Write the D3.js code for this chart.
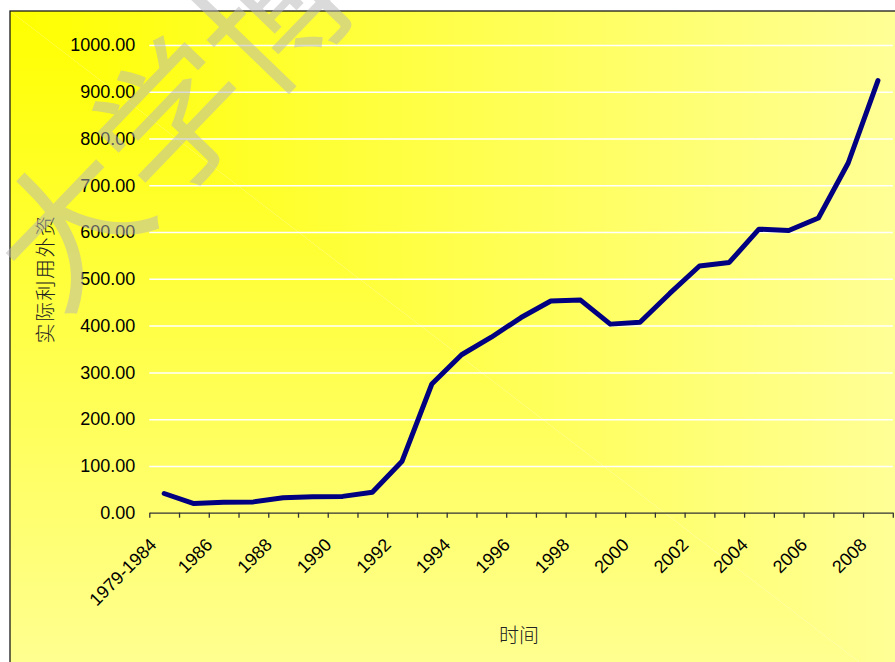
<!DOCTYPE html>
<html>
<head>
<meta charset="utf-8">
<script src="https://cdn.jsdelivr.net/npm/d3@7"></script>
<style>
  html, body { margin: 0; padding: 0; background: #ffffff; }
  svg { display: block; }
</style>
</head>
<body>
<svg id="chart" width="895" height="662"></svg>
<script>
// ---- data ----
const categories = ["1979-1984","1985","1986","1987","1988","1989","1990","1991","1992","1993",
  "1994","1995","1996","1997","1998","1999","2000","2001","2002","2003","2004","2005","2006","2007","2008"];
const values = [41.04, 19.56, 22.44, 23.14, 31.94, 33.92, 34.87, 43.66, 110.07, 275.15,
  337.67, 375.21, 417.26, 452.57, 454.63, 403.19, 407.15, 468.78, 527.43, 535.05,
  606.30, 603.25, 630.21, 747.68, 923.95];
const yTickValues = [0, 100, 200, 300, 400, 500, 600, 700, 800, 900, 1000];
const xLabelCategories = ["1979-1984","1986","1988","1990","1992","1994","1996","1998","2000","2002","2004","2006","2008"];
const yTitle = "实际利用外资";
const xTitle = "时间";
const watermarkText = "大学博";

// ---- layout ----
const svg = d3.select("#chart");
const frame = {x: 10, y: 11, w: 900, h: 690};
const plot = {left: 149.3, right: 892.8, top: 45, bottom: 512.7};

const defs = svg.append("defs");
// rectangular "from corner" gradient = horizontal ramp above the diagonal, vertical ramp below
const gh = defs.append("linearGradient").attr("id", "gh").attr("gradientUnits", "userSpaceOnUse")
  .attr("x1", frame.x).attr("y1", 0).attr("x2", frame.x + frame.w).attr("y2", 0);
const gv = defs.append("linearGradient").attr("id", "gv").attr("gradientUnits", "userSpaceOnUse")
  .attr("x1", 0).attr("y1", frame.y).attr("x2", 0).attr("y2", frame.y + frame.h);
[gh, gv].forEach(g => {
  g.append("stop").attr("offset", "0").attr("stop-color", "#FFFF00");
  g.append("stop").attr("offset", "1").attr("stop-color", "#FFFF99");
});
const fx0 = frame.x, fy0 = frame.y, fx1 = frame.x + frame.w, fy1 = frame.y + frame.h;
svg.append("polygon").attr("points", `${fx0},${fy0} ${fx1},${fy0} ${fx1},${fy1}`).attr("fill", "url(#gh)");
svg.append("polygon").attr("points", `${fx0},${fy0} ${fx0},${fy1} ${fx1},${fy1}`).attr("fill", "url(#gv)");
svg.append("rect").attr("x", frame.x).attr("y", frame.y).attr("width", frame.w).attr("height", frame.h)
  .attr("fill", "none").attr("stroke", "#1a1a1a").attr("stroke-width", 1.3);

// ---- scales ----
const x = d3.scaleBand().domain(categories).range([plot.left, plot.right]).padding(0);
const xEdge = d3.scaleLinear().domain([0, categories.length]).range([plot.left, plot.right]);
const y = d3.scaleLinear().domain([0, 1000]).range([plot.bottom, plot.top]);

const fontNum = "'Liberation Sans', Arial, sans-serif";
const fontCJK = "'Noto Sans CJK SC', sans-serif";

// gridlines
const grid = svg.append("g").attr("transform", `translate(${plot.left},0)`)
  .call(d3.axisLeft(y).tickValues(yTickValues.filter(v => v > 0)).tickSize(-(plot.right - plot.left)).tickFormat(""));
grid.select(".domain").remove();
grid.selectAll("line").attr("stroke", "#ffffff").attr("stroke-width", 1.5);

// y axis labels
const yAxis = svg.append("g").attr("transform", `translate(${plot.left - 4},0)`)
  .call(d3.axisLeft(y).tickValues(yTickValues).tickSize(0).tickPadding(10).tickFormat(d3.format(".2f")));
yAxis.select(".domain").remove();
yAxis.selectAll("text").attr("font-family", fontNum).attr("font-size", 18).attr("fill", "#000");

// x axis line and ticks at category boundaries
const xAxis = svg.append("g").attr("transform", `translate(0,${plot.bottom})`)
  .call(d3.axisBottom(xEdge).tickValues(d3.range(categories.length + 1)).tickSize(5).tickSizeOuter(0).tickFormat(""));
xAxis.select(".domain").attr("stroke", "#333").attr("stroke-width", 1.3);
xAxis.selectAll(".tick line").attr("stroke", "#333").attr("stroke-width", 1.3);

// x labels (rotated)
svg.append("g").selectAll("text").data(xLabelCategories).join("text")
  .attr("transform", d => `translate(${x(d) + x.bandwidth() / 2 - (d.length > 4 ? 6.5 : 10)},546) rotate(-45)`)
  .attr("text-anchor", "end")
  .attr("font-family", fontNum).attr("font-size", 18).attr("fill", "#000")
  .text(d => d);

// line
const line = d3.line().x((d, i) => x(categories[i]) + x.bandwidth() / 2).y(d => y(d));
svg.append("path").datum(values).attr("d", line)
  .attr("fill", "none").attr("stroke", "#000080").attr("stroke-width", 5)
  .attr("stroke-linejoin", "round").attr("stroke-linecap", "round");

// axis titles
svg.append("text").attr("transform", "translate(44,279) rotate(-90)")
  .attr("text-anchor", "middle").attr("dominant-baseline", "central")
  .attr("font-family", fontCJK).attr("font-size", 20).attr("font-weight", 300).attr("fill", "#222")
  .attr("letter-spacing", 1.5)
  .text(yTitle);
svg.append("text").attr("x", 519).attr("y", 634)
  .attr("text-anchor", "middle").attr("dominant-baseline", "central")
  .attr("font-family", fontCJK).attr("font-size", 20).attr("font-weight", 300).attr("fill", "#222")
  .text(xTitle);

// watermark (faint, rotated)
svg.append("text").attr("transform", "translate(166,112) rotate(-46)")
  .attr("text-anchor", "middle").attr("dominant-baseline", "central")
  .attr("font-family", fontCJK).attr("font-size", 148).attr("font-weight", 400)
  .attr("fill", "#b5b5b5").attr("fill-opacity", 0.5)
  .text(watermarkText);
</script>
</body>
</html>
